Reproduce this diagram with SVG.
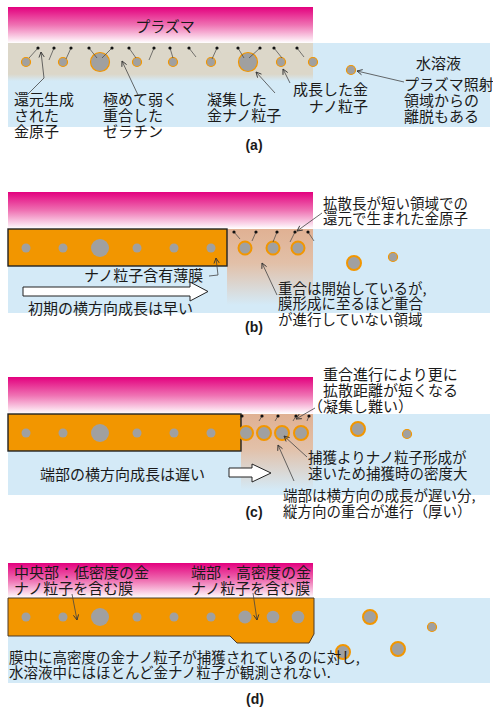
<svg xmlns="http://www.w3.org/2000/svg" width="493" height="707" viewBox="0 0 493 707">
  <defs>
    <linearGradient id="plasma" x1="0" y1="0" x2="0" y2="1">
      <stop offset="0" stop-color="#e3007e"/>
      <stop offset="0.5" stop-color="#ef72b3"/>
      <stop offset="1" stop-color="#ffffff"/>
    </linearGradient>
    <linearGradient id="gel" x1="0" y1="0" x2="0" y2="1">
      <stop offset="0" stop-color="#dcd7c9"/>
      <stop offset="0.82" stop-color="#dcd7c9"/>
      <stop offset="1" stop-color="#d4eaf7"/>
    </linearGradient>
    <linearGradient id="tan" x1="0" y1="0" x2="0" y2="1">
      <stop offset="0" stop-color="#e0b193"/>
      <stop offset="0.45" stop-color="#e2c0a8"/>
      <stop offset="1" stop-color="#d4eaf7"/>
    </linearGradient>
    <marker id="ah" viewBox="0 0 8 8" refX="7" refY="4" markerWidth="7" markerHeight="7" orient="auto" markerUnits="userSpaceOnUse">
      <path d="M1,1 L7,4 L1,7" fill="none" stroke="#333" stroke-width="1"/>
    </marker>
    <marker id="dot" viewBox="0 0 4 4" refX="2" refY="2" markerWidth="3.2" markerHeight="3.2" markerUnits="userSpaceOnUse">
      <circle cx="2" cy="2" r="2" fill="#111"/>
    </marker>
  </defs>
  <style>
    .plasma { fill: url(#plasma); }
    .water { fill: #d4eaf7; }
    .gel { fill: url(#gel); }
    .tan { fill: url(#tan); }
    .film { fill: #f29600; stroke: #222; stroke-width: 1.4; }
    .np { fill: #a0a0a0; }
    .npo { fill: #a0a0a0; stroke: #f29600; stroke-width: 1.2; }
    .npO { fill: #a0a0a0; stroke: #f29600; stroke-width: 2; }
    .atom { stroke: #444; stroke-width: 0.7; marker-start: url(#dot); }
    .lead { fill: none; stroke: #444; stroke-width: 0.8; marker-end: url(#ah); }
    .block { fill: #ffffff; stroke: #222; stroke-width: 1; }
    text { font-family: "Noto Sans CJK JP", "Noto Sans", sans-serif; font-size: 15px; fill: #1a1a1a; }
    .tight { font-size: 14.5px; }
    .tag { font-family: "Liberation Sans", Arial, sans-serif; font-weight: bold; font-size: 14px; text-anchor: middle; }
  </style>

  <!-- ===== (a) plasma over weakly polymerised gelatin ===== -->
  <g id="panel-a">
    <rect class="water" x="8" y="43" width="482" height="84"/>
    <rect class="plasma" x="8" y="7" width="305" height="36"/>
    <rect class="gel" x="8" y="43" width="305" height="38"/>
    <g id="a-particles">
      <circle class="npo" cx="26" cy="62" r="4.5"/>
      <circle class="npo" cx="63" cy="62" r="4.5"/>
      <circle class="npo" cx="100" cy="62" r="9.5"/>
      <circle class="npo" cx="137" cy="62" r="4.5"/>
      <circle class="npo" cx="173" cy="62" r="4.5"/>
      <circle class="npo" cx="211" cy="62" r="4.5"/>
      <circle class="npo" cx="248" cy="62" r="9.5"/>
      <circle class="npo" cx="281" cy="62" r="4.5"/>
      <circle class="npo" cx="313" cy="62" r="4.5"/>
      <circle class="npo" cx="351" cy="70" r="4.5"/>
    </g>
    <g id="a-atoms">
      <line class="atom" x1="38" y1="48" x2="29" y2="58"/>
      <line class="atom" x1="54" y1="48" x2="49" y2="60"/>
      <line class="atom" x1="71" y1="48" x2="66" y2="59"/>
      <line class="atom" x1="89" y1="48" x2="97" y2="58"/>
      <line class="atom" x1="112" y1="48" x2="102" y2="58"/>
      <line class="atom" x1="129" y1="48" x2="136" y2="58"/>
      <line class="atom" x1="154" y1="48" x2="149" y2="60"/>
      <line class="atom" x1="170" y1="48" x2="173" y2="58"/>
      <line class="atom" x1="189" y1="48" x2="196" y2="57"/>
      <line class="atom" x1="217" y1="48" x2="212" y2="59"/>
      <line class="atom" x1="238" y1="48" x2="244" y2="58"/>
      <line class="atom" x1="260" y1="48" x2="249" y2="58"/>
      <line class="atom" x1="274" y1="48" x2="282" y2="58"/>
      <line class="atom" x1="297" y1="48" x2="304" y2="57"/>
    </g>
    <text id="a-plasma" x="165" y="31.5" text-anchor="middle">プラズマ</text>
    <g id="a-label-atom">
      <text x="14" y="105">還元生成</text>
      <text x="14" y="121">された</text>
      <text x="14" y="137">金原子</text>
    </g>
    <g id="a-label-gelatin">
      <text x="103" y="105">極めて弱く</text>
      <text x="103" y="121">重合した</text>
      <text x="103" y="137">ゼラチン</text>
    </g>
    <g id="a-label-aggregate">
      <text x="207" y="105">凝集した</text>
      <text x="207" y="121">金ナノ粒子</text>
    </g>
    <g id="a-label-grown">
      <text x="368" y="95" text-anchor="end">成長した金</text>
      <text x="368" y="111.5" text-anchor="end">ナノ粒子</text>
    </g>
    <text id="a-water" x="416" y="68.5">水溶液</text>
    <g id="a-label-detach">
      <text x="404" y="90">プラズマ照射</text>
      <text x="404" y="106">領域からの</text>
      <text x="404" y="122">離脱もある</text>
    </g>
    <text class="tag" x="254" y="150">(a)</text>
  </g>

  <!-- ===== (b) early film: fast lateral growth ===== -->
  <g id="panel-b">
    <rect class="water" x="8" y="229" width="482" height="84"/>
    <rect class="plasma" x="8" y="192" width="305" height="37"/>
    <rect class="tan" x="227" y="229" width="86" height="76"/>
    <rect id="b-film" class="film" x="8" y="229" width="219" height="37"/>
    <g id="b-particles">
      <circle class="np" cx="26" cy="248" r="4.5"/>
      <circle class="np" cx="63" cy="248" r="4.5"/>
      <circle class="np" cx="100" cy="248" r="9"/>
      <circle class="np" cx="137" cy="248" r="4.5"/>
      <circle class="np" cx="174" cy="248" r="4.5"/>
      <circle class="np" cx="211" cy="248" r="4.5"/>
      <circle class="npO" cx="245" cy="248" r="6.5"/>
      <circle class="npO" cx="273" cy="248" r="6.5"/>
      <circle class="npO" cx="298" cy="248" r="6.5"/>
      <circle class="npO" cx="354" cy="263" r="7"/>
      <circle class="npo" cx="393" cy="257" r="4.5"/>
    </g>
    <g id="b-atoms">
      <line class="atom" x1="234" y1="232" x2="240" y2="239"/>
      <line class="atom" x1="256" y1="232" x2="252" y2="241"/>
      <line class="atom" x1="277" y1="232" x2="273" y2="242"/>
      <line class="atom" x1="295" y1="232" x2="290" y2="242"/>
      <line class="atom" x1="308" y1="232" x2="314" y2="241"/>
    </g>
    <g id="b-label-atoms" class="tight">
      <text class="tight" x="323" y="208.5">拡散長が短い領域での</text>
      <text class="tight" x="323" y="224">還元で生まれた金原子</text>
    </g>
    <text id="b-label-film" x="84" y="280.5">ナノ粒子含有薄膜</text>
    <polygon id="b-arrow" class="block" points="23,287 190,287 190,282 208,291.5 190,301 190,296 23,296"/>
    <text id="b-label-growth" x="28" y="313.5">初期の横方向成長は早い</text>
    <g id="b-label-region">
      <text class="tight" x="278" y="293.5">重合は開始しているが,</text>
      <text class="tight" x="278" y="309">膜形成に至るほど重合</text>
      <text class="tight" x="278" y="324.5">が進行していない領域</text>
    </g>
    <text class="tag" x="254" y="332">(b)</text>
  </g>

  <!-- ===== (c) edge: slow lateral growth, dense capture ===== -->
  <g id="panel-c">
    <rect class="water" x="8" y="414" width="482" height="81"/>
    <rect class="plasma" x="8" y="377" width="305" height="37"/>
    <rect class="tan" x="241" y="414" width="72" height="76"/>
    <rect id="c-film" class="film" x="8" y="414" width="233" height="37"/>
    <g id="c-particles">
      <circle class="np" cx="26" cy="433" r="4.5"/>
      <circle class="np" cx="63" cy="433" r="4.5"/>
      <circle class="np" cx="100" cy="433" r="9"/>
      <circle class="np" cx="137" cy="433" r="4.5"/>
      <circle class="np" cx="174" cy="433" r="4.5"/>
      <circle class="np" cx="211" cy="433" r="4.5"/>
      <circle class="npO" cx="246" cy="433" r="7"/>
      <circle class="npO" cx="264" cy="433" r="7"/>
      <circle class="npO" cx="282" cy="433" r="7"/>
      <circle class="npO" cx="301" cy="433" r="7"/>
      <circle class="npO" cx="358" cy="429" r="7"/>
      <circle class="npo" cx="407" cy="434" r="4.5"/>
    </g>
    <g id="c-atoms">
      <line class="atom" x1="242" y1="416" x2="240" y2="420"/>
      <line class="atom" x1="262" y1="416" x2="259" y2="421"/>
      <line class="atom" x1="278" y1="416" x2="275" y2="421"/>
      <line class="atom" x1="296" y1="416" x2="293" y2="421"/>
      <line class="atom" x1="309" y1="416" x2="307" y2="421"/>
    </g>
    <g id="c-label-diffusion">
      <text x="323" y="380">重合進行により更に</text>
      <text x="323" y="396">拡散距離が短くなる</text>
      <text x="308" y="411.5">（凝集し難い）</text>
    </g>
    <g id="c-label-capture">
      <text class="tight" x="308" y="463">捕獲よりナノ粒子形成が</text>
      <text class="tight" x="308" y="478.5">速いため捕獲時の密度大</text>
    </g>
    <text id="c-label-growth" x="40" y="479.5">端部の横方向成長は遅い</text>
    <polygon id="c-arrow" class="block" points="229,468 252,468 252,464 271,473 252,482 252,477 229,477"/>
    <g id="c-label-edge">
      <text class="tight" x="283" y="501">端部は横方向の成長が遅い分,</text>
      <text class="tight" x="283" y="517">縦方向の重合が進行（厚い）</text>
    </g>
    <text class="tag" x="254" y="517">(c)</text>
  </g>

  <!-- ===== (d) final film: dense edge, clear solution ===== -->
  <g id="panel-d">
    <rect class="water" x="8" y="598" width="482" height="85"/>
    <rect class="plasma" x="8" y="563" width="305" height="35"/>
    <path id="d-film" d="M8,598 H314 V634 L309,643 H237 L230,636 H8 Z" fill="#f29600" stroke="#4a3a2a" stroke-width="1"/>
    <g id="d-particles">
      <circle class="np" cx="26" cy="617" r="4.5"/>
      <circle class="np" cx="63" cy="617" r="4.5"/>
      <circle class="np" cx="100" cy="617" r="9"/>
      <circle class="np" cx="137" cy="617" r="4.5"/>
      <circle class="np" cx="174" cy="617" r="4.5"/>
      <circle class="np" cx="211" cy="617" r="4.5"/>
      <circle class="np" cx="245" cy="617" r="6.5"/>
      <circle class="np" cx="273" cy="617" r="6.3"/>
      <circle class="np" cx="298" cy="617" r="6.3"/>
      <circle class="npO" cx="370" cy="617" r="7"/>
      <circle class="npo" cx="432" cy="627" r="4.5"/>
      <circle class="npO" cx="343" cy="652" r="7"/>
      <circle class="npO" cx="398" cy="649" r="7"/>
    </g>
    <g id="d-label-center">
      <text x="14" y="578">中央部：低密度の金</text>
      <text x="14" y="594">ナノ粒子を含む膜</text>
    </g>
    <g id="d-label-edge">
      <text x="191" y="578">端部：高密度の金</text>
      <text x="191" y="594">ナノ粒子を含む膜</text>
    </g>
    <g id="d-label-summary">
      <text class="tight" x="9" y="662.5">膜中に高密度の金ナノ粒子が捕獲されているのに対し,</text>
      <text class="tight" x="9" y="678">水溶液中にはほとんど金ナノ粒子が観測されない.</text>
    </g>
    <text class="tag" x="255" y="704">(d)</text>
  </g>

  <!-- leader lines -->
  <g id="connectors">
    <polyline class="lead" points="28,94 44,78 41,52"/>
    <line class="lead" x1="138" y1="95" x2="122" y2="61"/>
    <line class="lead" x1="275" y1="93" x2="256" y2="72"/>
    <line class="lead" x1="290" y1="83" x2="283" y2="69"/>
    <line class="lead" x1="404" y1="82" x2="357" y2="71"/>
    <line class="lead" x1="322" y1="213" x2="297" y2="231"/>
    <polyline class="lead" points="209,276 218,275 216,258"/>
    <line class="lead" x1="277" y1="295" x2="262" y2="263"/>
    <line class="lead" x1="315" y1="408" x2="296" y2="419"/>
    <line class="lead" x1="307" y1="457" x2="284" y2="436"/>
    <line class="lead" x1="294" y1="481" x2="278" y2="445"/>
    <line class="lead" x1="72" y1="594" x2="77" y2="620"/>
    <line class="lead" x1="253" y1="593" x2="257" y2="620"/>
  </g>
</svg>
